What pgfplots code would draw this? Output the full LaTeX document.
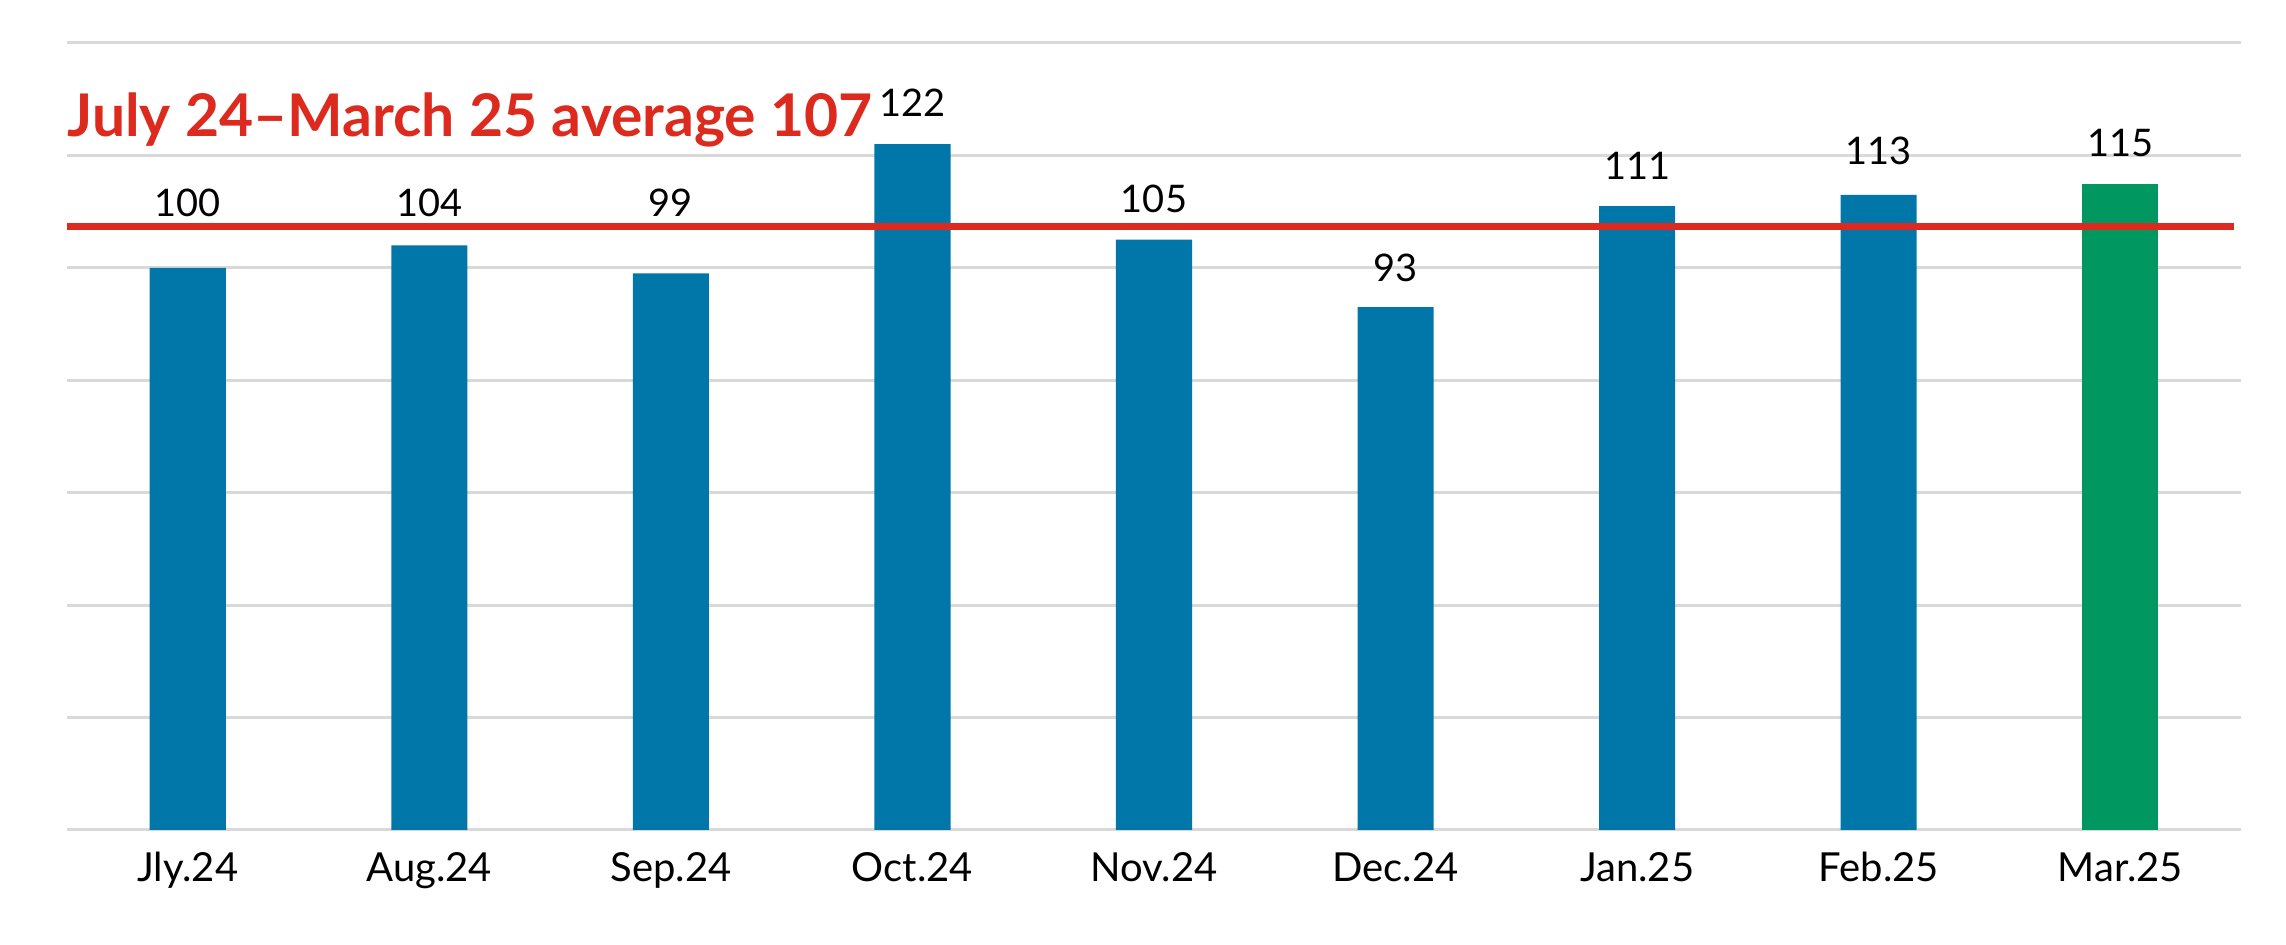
\documentclass[border=0pt]{standalone}
\usepackage{pgfplots}
\pgfplotsset{compat=1.18}
\usepackage{fontspec}
\setmainfont{Lato}
\definecolor{barblue}{HTML}{0077A8}
\definecolor{bargreen}{HTML}{009760}
\definecolor{avgred}{HTML}{DC2A1E}
\definecolor{gridgray}{HTML}{D9D9D9}
\begin{document}
\begin{tikzpicture}
\path[use as bounding box] (-23.45pt,-40.25pt) rectangle (776.65pt,290.5pt);
\begin{axis}[
  at={(0pt,0pt)}, anchor=south west,
  scale only axis, width=760.9pt, height=275.45pt,
  xmin=-0.5, xmax=8.5, ymin=0, ymax=140,
  ytick={0,20,...,140}, yticklabels={},
  ymajorgrids, grid style={gridgray, line width=1.05pt},
  xtick={0,...,8},
  xticklabels={Jly.24,Aug.24,Sep.24,Oct.24,Nov.24,Dec.24,Jan.25,Feb.25,Mar.25},
  major tick length=0pt,
  axis line style={draw=none},
  xticklabel style={anchor=base, yshift=-18.2pt, inner sep=0pt, font=\fontsize{14}{16}\selectfont},
  clip=false,
]
\addplot[ybar, bar width=0.315, bar shift=0pt, fill=barblue, draw=none]
  coordinates {(0,100) (1,104) (2,99) (3,122) (4,105) (5,93) (6,111) (7,113)};
\addplot[ybar, bar width=0.315, bar shift=0pt, fill=bargreen, draw=none]
  coordinates {(8,115)};
\addplot[avgred, line width=2.35pt] coordinates {(-0.5,107.3) (8.47,107.3)};
\addplot[draw=none, nodes near coords, point meta=explicit symbolic,
  nodes near coords style={anchor=base, inner sep=0pt, text=black, font=\fontsize{13.3}{15}\selectfont}]
  table[meta=label] {
x y label
0 109.1 100
1 109.1 104
2 109.1 99
3 126.9 122
4 109.9 105
5 97.5 93
6 115.8 111
7 118.3 113
8 119.8 115
};
\node[anchor=base west, inner sep=0pt, text=avgred, font=\bfseries\fontsize{20.6}{23}\selectfont]
  at (axis cs:-0.5,123.3) {July 24\textendash March 25 average 107};
\end{axis}
\end{tikzpicture}
\end{document}
